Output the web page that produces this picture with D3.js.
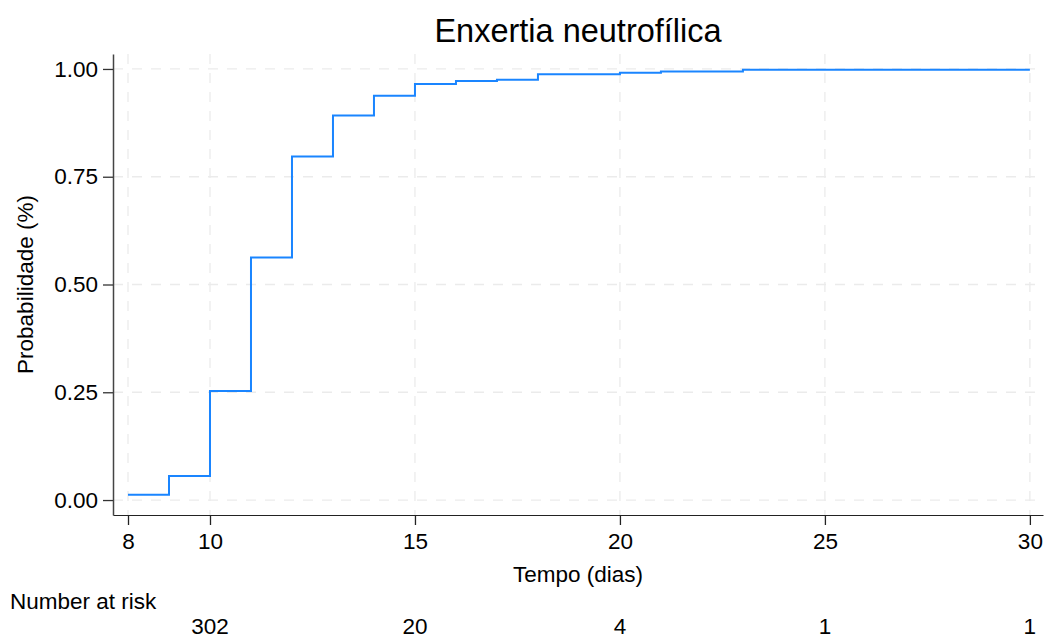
<!DOCTYPE html>
<html>
<head>
<meta charset="utf-8">
<script src="https://cdn.jsdelivr.net/npm/d3@7"></script>
<style>
  body { margin: 0; background: #fff; }
  svg { font-family: "Liberation Sans", Arial, Helvetica, sans-serif; }
</style>
</head>
<body>
<svg></svg>
<script>
let width = 1046, height = 640;

// Kaplan-Meier style step curve (time in days, cumulative probability)
let times  = [8, 9, 10, 11, 12, 13, 14, 15, 16, 17, 18, 20, 21, 23, 30];
let probs  = [0.012, 0.056, 0.253, 0.5625, 0.797, 0.892, 0.938, 0.965, 0.972, 0.975, 0.988, 0.991, 0.994, 0.998, 0.998];

let xTicks = [8, 10, 15, 20, 25, 30];
let yTicks = [0, 0.25, 0.5, 0.75, 1];

// number at risk table
let riskTimes  = [10, 15, 20, 25, 30];
let riskCounts = [302, 20, 4, 1, 1];

let svg = d3.select("svg")
    .attr("width", width)
    .attr("height", height);

let plotLeft = 113, plotRight = 1043, plotTop = 54, plotBottom = 515;
let fs = 22.5;

let x = d3.scaleLinear()
    .domain([7.634, 30.32])
    .range([plotLeft, plotRight]);

let y = d3.scaleLinear()
    .domain([-0.0347, 1.0347])
    .range([plotBottom, plotTop]);

// grid
let grid = svg.append("g").attr("stroke", "#ebebeb").attr("stroke-width", 1.3)
    .attr("stroke-dasharray", "10,9");

grid.selectAll("line.gx")
    .data(xTicks)
    .enter()
    .append("line")
    .attr("x1", d => x(d)).attr("x2", d => x(d))
    .attr("y1", plotTop).attr("y2", plotBottom);

grid.selectAll("line.gy")
    .data(yTicks)
    .enter()
    .append("line")
    .attr("x1", plotLeft).attr("x2", plotRight)
    .attr("y1", d => y(d)).attr("y2", d => y(d));

// the curve
let line = d3.line()
    .x(d => x(d[0]))
    .y(d => y(d[1]))
    .curve(d3.curveStepAfter);

svg.append("path")
    .datum(times.map((t, i) => [t, probs[i]]))
    .attr("fill", "none")
    .attr("stroke", "#1a85ff")
    .attr("stroke-width", 2)
    .attr("d", line);

// axes
let xAxis = svg.append("g")
    .attr("transform", "translate(0," + plotBottom + ")")
    .call(d3.axisBottom(x).tickValues(xTicks).tickSize(10).tickPadding(8).tickSizeOuter(0));

xAxis.select(".domain").attr("stroke", "#222").attr("stroke-width", 1.2);
xAxis.selectAll(".tick line").attr("stroke", "#222").attr("stroke-width", 1.3);
xAxis.selectAll("text").attr("font-size", fs).attr("fill", "#000");

let yAxis = svg.append("g")
    .attr("transform", "translate(" + plotLeft + ",0)")
    .call(d3.axisLeft(y).tickValues(yTicks).tickFormat(d3.format(".2f")).tickSize(10).tickPadding(5).tickSizeOuter(0));

yAxis.select(".domain").attr("stroke", "#444").attr("stroke-width", 1.5);
yAxis.selectAll(".tick line").attr("stroke", "#333").attr("stroke-width", 1.3);
yAxis.selectAll("text").attr("font-size", fs).attr("fill", "#000");

// titles
svg.append("text")
    .attr("x", (plotLeft + plotRight) / 2)
    .attr("y", 42)
    .attr("text-anchor", "middle")
    .attr("font-size", 32.5)
    .text("Enxertia neutrofílica");

svg.append("text")
    .attr("x", (plotLeft + plotRight) / 2)
    .attr("y", 582)
    .attr("text-anchor", "middle")
    .attr("font-size", fs)
    .text("Tempo (dias)");

svg.append("text")
    .attr("transform", "translate(33," + y(0.5) + ") rotate(-90)")
    .attr("text-anchor", "middle")
    .attr("font-size", fs)
    .text("Probabilidade (%)");

// number at risk
svg.append("text")
    .attr("x", 10)
    .attr("y", 609)
    .attr("font-size", fs)
    .text("Number at risk");

svg.selectAll("text.risk")
    .data(riskTimes)
    .enter()
    .append("text")
    .attr("class", "risk")
    .attr("x", d => x(d))
    .attr("y", 634)
    .attr("text-anchor", "middle")
    .attr("font-size", fs)
    .text((d, i) => riskCounts[i]);
</script>
</body>
</html>
